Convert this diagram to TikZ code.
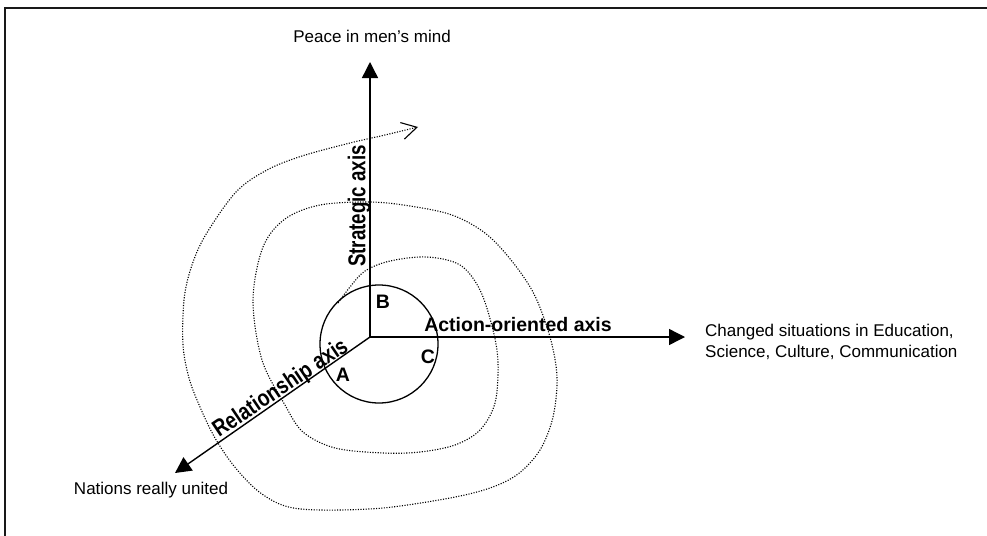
\documentclass[tikz,border=0pt]{standalone}
\usepackage{fontspec}
\setmainfont{Liberation Sans}
\usetikzlibrary{arrows.meta}
\begin{document}
\begin{tikzpicture}[x=1pt,y=-1pt,
  plain/.style={inner sep=0pt,font=\fontsize{17}{20.5}\selectfont},
  boldlbl/.style={inner sep=0pt,font=\fontsize{19.5}{23}\selectfont\bfseries},
  axisline/.style={line width=1.4pt,-{Triangle[length=16pt,width=16pt]}},
  spiral/.style={line width=1.1pt,dash pattern=on 1.1pt off 1.5pt,
    -{Straight Barb[length=15pt,width=17pt,line width=1.1pt]}},
  frame/.style={line width=2pt,draw=black!90}]
\useasboundingbox (0,0) rectangle (987,535);
\draw[frame] (4.5,600) -- (4.5,8.5) -- (1100,8.5);
% axes
\coordinate (O) at (370,337);
\coordinate (top) at (370,62);
\coordinate (right) at (685,337);
\coordinate (diag) at (175,473);
\draw[axisline] (O) -- (top);
\draw[axisline] (O) -- (right);
\draw[axisline] (O) -- (diag);
% circle
\node[draw,circle,line width=1.3pt,minimum size=118pt,inner sep=0pt] (circ) at (379,344) {};
% spiral
\draw[spiral] plot[smooth,tension=0.55] coordinates {
(338,303) (350,287) (365,271) (390,261) (427,257) (460,265) (480,290) (493,330)
(498,363) (495,403) (480,430) (455,445) (420,452) (383,453) (335,448) (303,432)
(285,405) (262,360) (253,300) (263,247) (285,219) (320,205) (370,202) (410,206)
(452,215) (485,233) (511,260) (534,294) (550,337) (557,377) (553,417) (540,450)
(518,474) (490,488) (450,498) (383,508) (320,510) (285,506) (258,491) (234,466)
(215,438) (200,407) (189,378) (183,345) (184,300) (191,268) (205,236) (236,192)
(267,170) (302,156) (350,143) (385,135) (418,127)};
% labels
\node[plain] (peace) at (372,36) {Peace in men’s mind};
\node[plain] (nations) at (151,490) {Nations really united};
\node[plain,anchor=west,align=left] (changed) at (705,342)
  {Changed situations in Education,\\Science, Culture, Communication};
\node[boldlbl] (strat) at (359,206) [rotate=90] {\scalebox{0.96}[1.25]{Strategic axis}};
\node[boldlbl] (action) at (518,325) {Action-oriented axis};
\node[boldlbl] (rel) at (281,389) [rotate=34] {\scalebox{0.98}[1.2]{Relationship axis}};
\node[boldlbl] (B) at (383,302) {B};
\node[boldlbl] (C) at (428,357) {C};
\node[boldlbl] (A) at (343,375) {A};
\end{tikzpicture}
\end{document}
